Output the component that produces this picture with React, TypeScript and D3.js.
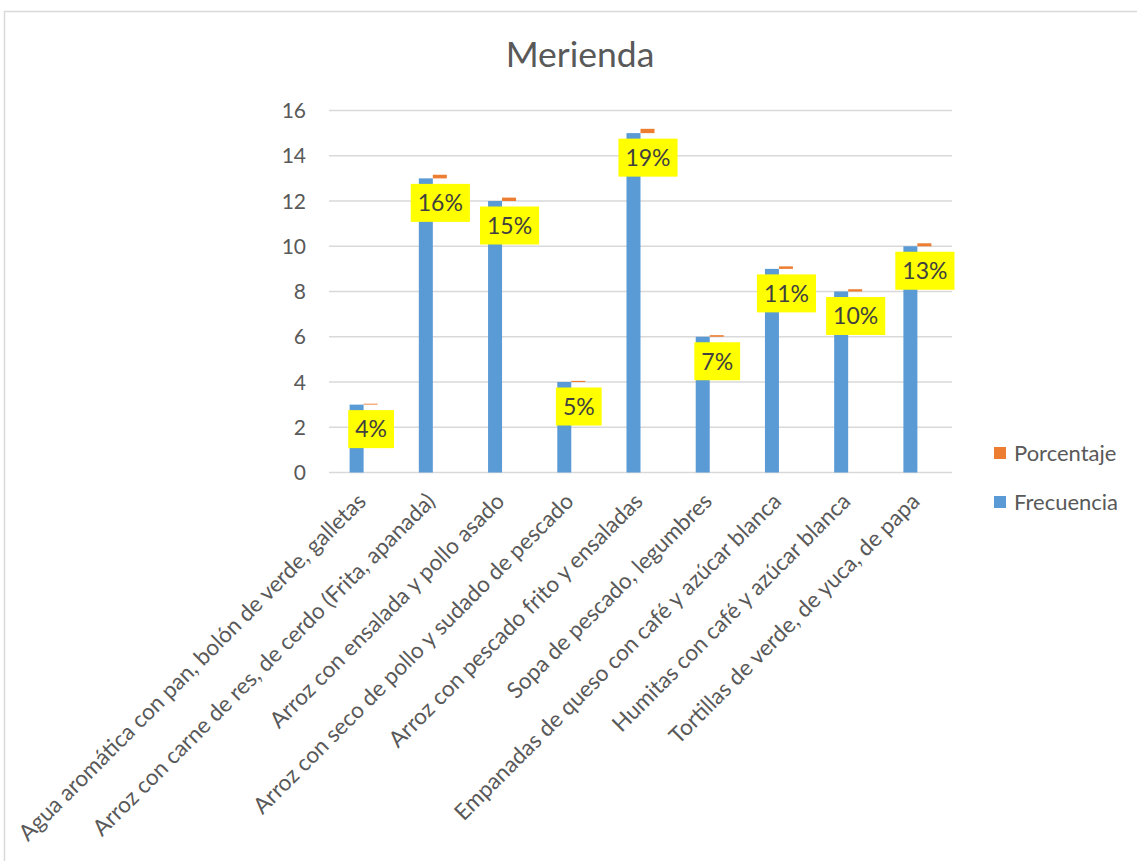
import React, { useEffect, useRef } from "react";
import * as d3 from "d3";

const categories = [
  "Agua aromática con pan, bolón de verde, galletas",
  "Arroz con carne de res, de cerdo (Frita, apanada)",
  "Arroz con ensalada y pollo asado",
  "Arroz con seco de pollo y sudado de pescado",
  "Arroz con pescado frito y ensaladas",
  "Sopa de pescado, legumbres",
  "Empanadas de queso  con café y azúcar blanca",
  "Humitas con café y azúcar blanca",
  "Tortillas de verde, de yuca, de papa",
];
const frecuencia = [3, 13, 12, 4, 15, 6, 9, 8, 10];
const porcentaje = [0.04, 0.16, 0.15, 0.05, 0.19, 0.07, 0.11, 0.1, 0.13];
const yTicks = [0, 2, 4, 6, 8, 10, 12, 14, 16];
const seriesNames = ["Porcentaje", "Frecuencia"];

const W = 1137;
const H = 861;
const FONT = "Lato, 'Noto Sans', sans-serif";
const BLUE = "#5B9BD5";
const ORANGE = "#ED7D31";
const TEXT = "#595959";

export default function App() {
  const ref = useRef<SVGSVGElement>(null);
  useEffect(() => {
    const svg = d3.select(ref.current);
    svg.selectAll("*").remove();

    svg
      .append("rect")
      .attr("x", 4.5)
      .attr("y", 11.5)
      .attr("width", W + 10)
      .attr("height", H + 10)
      .attr("fill", "#fff")
      .attr("stroke", "#d9d9d9")
      .attr("stroke-width", 1.5);

    const x = d3.scaleBand<string>().domain(categories).range([329, 952]).padding(0);
    const y = d3.scaleLinear().domain([0, 16]).range([472.5, 110.5]);
    const bw = 14;

    svg
      .append("text")
      .attr("x", 580)
      .attr("y", 67)
      .attr("text-anchor", "middle")
      .attr("font-family", FONT)
      .attr("font-size", 35.5)
      .attr("fill", TEXT)
      .text("Merienda");

    const grid = svg.append("g");
    yTicks.forEach((t) => {
      grid
        .append("line")
        .attr("x1", 329)
        .attr("x2", 952)
        .attr("y1", y(t))
        .attr("y2", y(t))
        .attr("stroke", "#d9d9d9")
        .attr("stroke-width", 1.5);
      grid
        .append("text")
        .attr("x", 306)
        .attr("y", y(t))
        .attr("dy", "0.36em")
        .attr("text-anchor", "end")
        .attr("font-family", FONT)
        .attr("font-size", 21)
        .attr("fill", TEXT)
        .text(String(t));
    });

    const cx = (c: string) => (x(c) as number) + x.bandwidth() / 2;

    // blue bars
    svg
      .append("g")
      .selectAll("rect")
      .data(categories)
      .join("rect")
      .attr("x", (c) => cx(c) - bw)
      .attr("width", bw)
      .attr("y", (c, i) => y(frecuencia[i]))
      .attr("height", (c, i) => y(0) - y(frecuencia[i]))
      .attr("fill", BLUE);

    // orange bars (stacked above frequency level, offset)
    svg
      .append("g")
      .selectAll("rect")
      .data(categories)
      .join("rect")
      .attr("x", (c) => cx(c))
      .attr("width", bw)
      .attr("y", (c, i) => y(frecuencia[i] + porcentaje[i]))
      .attr("height", (c, i) => Math.max(0.8, y(frecuencia[i]) - y(frecuencia[i] + porcentaje[i])))
      .attr("fill", ORANGE);

    // data labels
    const lg = svg.append("g");
    categories.forEach((c, i) => {
      const lx = cx(c) + 7.5;
      const ly = y(frecuencia[i]) + 24.5;
      const g = lg.append("g");
      const rect = g.append("rect").attr("fill", "#FFFF00");
      const t = g
        .append("text")
        .attr("x", lx)
        .attr("y", ly)
        .attr("dy", "0.36em")
        .attr("text-anchor", "middle")
        .attr("font-family", FONT)
        .attr("font-size", 23)
        .attr("fill", "#404040")
        .text(`${Math.round(porcentaje[i] * 100)}%`);
      const w = (t.node() as SVGTextElement).getComputedTextLength();
      const bwid = w + 14;
      rect
        .attr("x", lx - bwid / 2)
        .attr("y", ly - 19)
        .attr("width", bwid)
        .attr("height", 38);
    });

    // x labels
    const xl = svg.append("g");
    categories.forEach((c) => {
      xl.append("text")
        .attr("transform", `translate(${cx(c) - 2},${497}) rotate(-45)`)
        .attr("text-anchor", "end")
        .attr("dy", "0.36em")
        .attr("font-family", FONT)
        .attr("font-size", 22.5)
        .attr("fill", TEXT)
        .text(c);
    });

    // legend
    const colors = [ORANGE, BLUE];
    seriesNames.forEach((n, i) => {
      const ly = 447 + i * 49;
      svg
        .append("rect")
        .attr("x", 994)
        .attr("y", ly)
        .attr("width", 12)
        .attr("height", 12)
        .attr("fill", colors[i]);
      svg
        .append("text")
        .attr("x", 1014)
        .attr("y", ly + 13.5)
        .attr("font-family", FONT)
        .attr("font-size", 22)
        .attr("fill", TEXT)
        .text(n);
    });
  }, []);
  return (
    <svg
      ref={ref}
      width={W}
      height={H}
      style={{ position: "absolute", left: 0, top: 0, background: "#fff" }}
    />
  );
}
